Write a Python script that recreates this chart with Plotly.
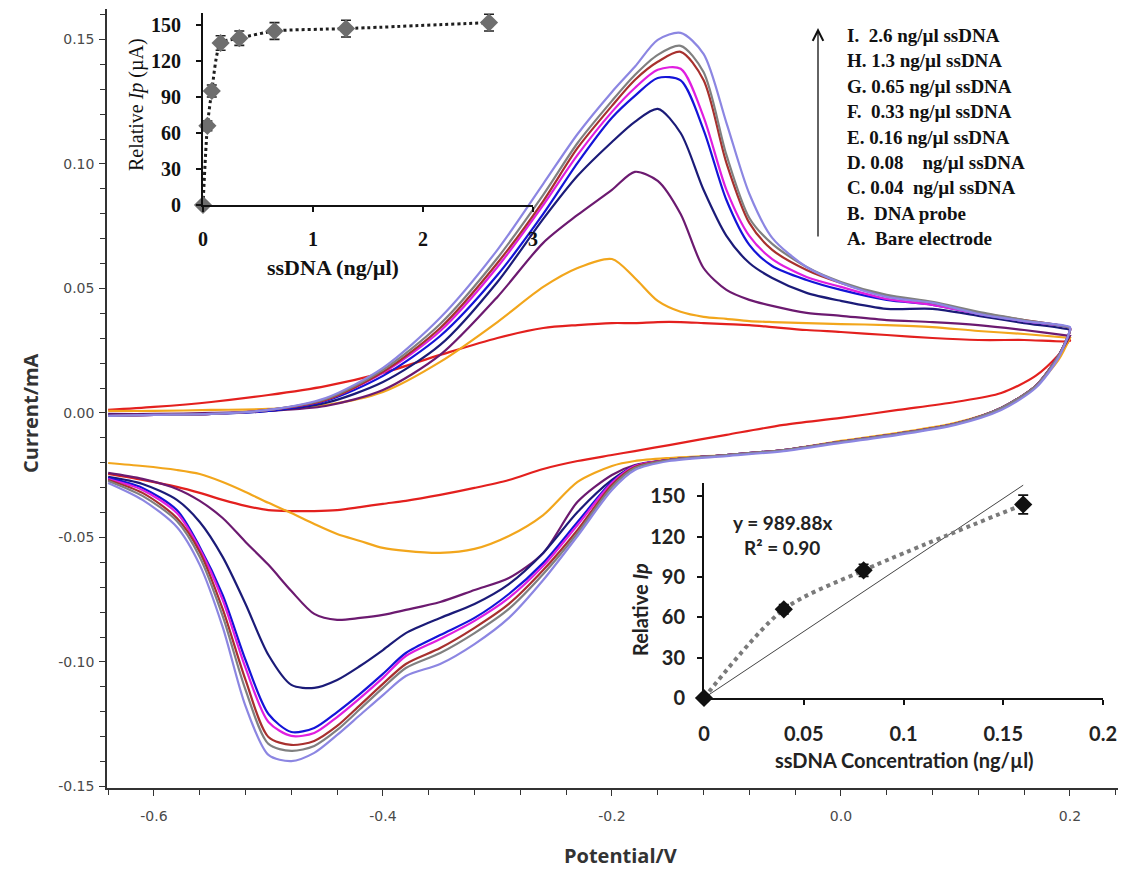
import plotly.graph_objects as go

W, H = 1121, 874

# ---------------- main CV data (potential in V, current in mA) ----------------
V_fwd = [-0.64, -0.60, -0.55, -0.50, -0.45, -0.40, -0.35, -0.30, -0.26, -0.23, -0.20, -0.18,
         -0.16, -0.14, -0.12, -0.10, -0.08, -0.06, -0.03, 0.00, 0.04, 0.08, 0.12, 0.16, 0.20]
V_rev = [0.20, 0.19, 0.17, 0.14, 0.10, 0.05, 0.00, -0.05, -0.10, -0.15, -0.18, -0.20, -0.23, -0.26,
         -0.29, -0.32, -0.35, -0.38, -0.40, -0.42, -0.44, -0.46, -0.48, -0.50, -0.52, -0.54,
         -0.56, -0.58, -0.61, -0.64]

A_fwd = [0.0012, 0.0024, 0.0044, 0.0072, 0.0108, 0.0161, 0.0233, 0.0301, 0.0341, 0.0353, 0.0361, 0.0361,
         0.0365, 0.0365, 0.0361, 0.0357, 0.0353, 0.0345, 0.0333, 0.0325, 0.0313, 0.0301, 0.0293, 0.0293, 0.0289]
A_rev = [0.0293, 0.0233, 0.0149, 0.0080, 0.0044, 0.0012, -0.0020, -0.0048, -0.0088, -0.0129, -0.0153, -0.0169,
         -0.0193, -0.0225, -0.0269, -0.0301, -0.0329, -0.0353, -0.0365, -0.0378, -0.0390, -0.0394, -0.0394,
         -0.0390, -0.0373, -0.0349, -0.0321, -0.0297, -0.0269, -0.0245]

B_fwd = [0.0008, 0.0008, 0.0012, 0.0016, 0.0032, 0.0084, 0.0205, 0.0365, 0.0506, 0.0582, 0.0618, 0.0542,
         0.0450, 0.0406, 0.0386, 0.0378, 0.0369, 0.0365, 0.0361, 0.0357, 0.0353, 0.0345, 0.0329, 0.0317, 0.0301]
B_rev = [0.0301, 0.0213, 0.0108, 0.0020, -0.0040, -0.0080, -0.0112, -0.0149, -0.0169, -0.0181, -0.0193, -0.0213,
         -0.0277, -0.0410, -0.0494, -0.0546, -0.0562, -0.0554, -0.0542, -0.0514, -0.0486, -0.0446, -0.0402,
         -0.0361, -0.0317, -0.0277, -0.0245, -0.0229, -0.0213, -0.0201]

C_fwd = [-0.0004, -0.0004, 0.0000, 0.0008, 0.0028, 0.0092, 0.0233, 0.0466, 0.0683, 0.0795, 0.0896, 0.0968,
         0.0932, 0.0799, 0.0582, 0.0494, 0.0454, 0.0430, 0.0402, 0.0390, 0.0373, 0.0365, 0.0353, 0.0333, 0.0309]
C_rev = [0.0309, 0.0229, 0.0108, 0.0020, -0.0044, -0.0084, -0.0116, -0.0149, -0.0169, -0.0189, -0.0209, -0.0249,
         -0.0357, -0.0562, -0.0663, -0.0711, -0.0759, -0.0791, -0.0811, -0.0823, -0.0831, -0.0807, -0.0715,
         -0.0610, -0.0518, -0.0422, -0.0353, -0.0305, -0.0265, -0.0241]

D_fwd = [-0.0008, -0.0008, -0.0004, 0.0008, 0.0040, 0.0124, 0.0273, 0.0526, 0.0779, 0.0952, 0.1088, 0.1169,
         0.1221, 0.1124, 0.0896, 0.0711, 0.0602, 0.0542, 0.0482, 0.0450, 0.0418, 0.0418, 0.0390, 0.0361, 0.0333]
D_rev = [0.0329, 0.0229, 0.0108, 0.0020, -0.0044, -0.0084, -0.0116, -0.0149, -0.0169, -0.0189, -0.0213, -0.0269,
         -0.0398, -0.0562, -0.0687, -0.0767, -0.0823, -0.0884, -0.0952, -0.1016, -0.1072, -0.1104, -0.1092,
         -0.0972, -0.0767, -0.0578, -0.0438, -0.0349, -0.0285, -0.0257]

E_fwd = [-0.0012, -0.0008, -0.0004, 0.0008, 0.0048, 0.0149, 0.0309, 0.0554, 0.0799, 0.1004, 0.1185, 0.1273,
         0.1345, 0.1335, 0.1137, 0.0855, 0.0675, 0.0590, 0.0534, 0.0494, 0.0454, 0.0434, 0.0398, 0.0369, 0.0341]
E_rev = [0.0329, 0.0229, 0.0108, 0.0020, -0.0044, -0.0084, -0.0116, -0.0149, -0.0169, -0.0189, -0.0213, -0.0277,
         -0.0438, -0.0602, -0.0727, -0.0823, -0.0892, -0.0964, -0.1048, -0.1128, -0.1201, -0.1265, -0.1281,
         -0.1209, -0.0992, -0.0731, -0.0538, -0.0390, -0.0301, -0.0261]

F_fwd = [-0.0012, -0.0008, -0.0004, 0.0012, 0.0052, 0.0161, 0.0329, 0.0586, 0.0835, 0.1036, 0.1209, 0.1305,
         0.1378, 0.1382, 0.1189, 0.0896, 0.0711, 0.0618, 0.0546, 0.0506, 0.0458, 0.0434, 0.0398, 0.0369, 0.0341]
F_rev = [0.0329, 0.0229, 0.0108, 0.0020, -0.0044, -0.0084, -0.0116, -0.0149, -0.0169, -0.0189, -0.0213, -0.0281,
         -0.0450, -0.0614, -0.0743, -0.0835, -0.0908, -0.0976, -0.1064, -0.1145, -0.1221, -0.1285, -0.1297,
         -0.1241, -0.1024, -0.0751, -0.0546, -0.0402, -0.0309, -0.0265]

G_fwd = [-0.0012, -0.0008, -0.0004, 0.0012, 0.0052, 0.0165, 0.0341, 0.0602, 0.0851, 0.1064, 0.1233, 0.1337,
         0.1410, 0.1450, 0.1337, 0.1004, 0.0763, 0.0655, 0.0574, 0.0522, 0.0470, 0.0442, 0.0402, 0.0373, 0.0341]
G_rev = [0.0329, 0.0229, 0.0108, 0.0020, -0.0044, -0.0084, -0.0116, -0.0149, -0.0169, -0.0189, -0.0217, -0.0289,
         -0.0470, -0.0631, -0.0767, -0.0863, -0.0944, -0.1008, -0.1088, -0.1173, -0.1257, -0.1317, -0.1333,
         -0.1301, -0.1072, -0.0787, -0.0558, -0.0422, -0.0321, -0.0269]

H_fwd = [-0.0012, -0.0008, -0.0004, 0.0012, 0.0056, 0.0173, 0.0357, 0.0622, 0.0876, 0.1084, 0.1253, 0.1357,
         0.1438, 0.1474, 0.1369, 0.1036, 0.0783, 0.0679, 0.0586, 0.0526, 0.0474, 0.0446, 0.0406, 0.0373, 0.0341]
H_rev = [0.0329, 0.0229, 0.0108, 0.0020, -0.0044, -0.0084, -0.0116, -0.0149, -0.0169, -0.0189, -0.0221, -0.0297,
         -0.0482, -0.0647, -0.0787, -0.0884, -0.0964, -0.1024, -0.1104, -0.1189, -0.1273, -0.1337, -0.1357,
         -0.1329, -0.1112, -0.0815, -0.0578, -0.0434, -0.0333, -0.0273]

I_fwd = [-0.0012, -0.0008, -0.0004, 0.0012, 0.0060, 0.0181, 0.0382, 0.0655, 0.0920, 0.1120, 0.1289, 0.1390,
         0.1498, 0.1526, 0.1442, 0.1165, 0.0880, 0.0703, 0.0586, 0.0522, 0.0466, 0.0442, 0.0398, 0.0369, 0.0345]
I_rev = [0.0333, 0.0221, 0.0100, 0.0012, -0.0048, -0.0088, -0.0120, -0.0153, -0.0173, -0.0193, -0.0229, -0.0309,
         -0.0494, -0.0671, -0.0823, -0.0928, -0.1008, -0.1056, -0.1133, -0.1213, -0.1293, -0.1365, -0.1398,
         -0.1373, -0.1177, -0.0859, -0.0610, -0.0458, -0.0349, -0.0281]

curve_names = ["A", "B", "C", "D", "E", "F", "G", "H", "I"]
curve_fwd = [A_fwd, B_fwd, C_fwd, D_fwd, E_fwd, F_fwd, G_fwd, H_fwd, I_fwd]
curve_rev = [A_rev, B_rev, C_rev, D_rev, E_rev, F_rev, G_rev, H_rev, I_rev]
curve_colors = ["#e3201e", "#f2a61c", "#6c1a70", "#1b1b78", "#1414d8", "#e01ee0", "#a8302e", "#808080", "#8c86e2"]

legend_lines = ["I.\u00a0 2.6 ng/µl ssDNA", "H. 1.3 ng/µl ssDNA", "G. 0.65 ng/µl ssDNA",
                "F.\u00a0 0.33 ng/µl ssDNA", "E. 0.16 ng/µl ssDNA", "D. 0.08\u00a0\u00a0\u00a0 ng/µl ssDNA",
                "C. 0.04\u00a0 ng/µl ssDNA", "B.\u00a0 DNA probe", "A.\u00a0 Bare electrode"]

main_xticks = [-0.6, -0.4, -0.2, 0.0, 0.2]
main_xtext = ["-0.6", "-0.4", "-0.2", "0.0", "0.2"]
main_yticks = [-0.15, -0.10, -0.05, 0.0, 0.05, 0.10, 0.15]
main_ytext = ["-0.15", "-0.10", "-0.05", "0.00", "0.05", "0.10", "0.15"]

# ---------------- inset 1: Ip vs concentration ----------------
ins1_x = [0, 0.04, 0.08, 0.16, 0.33, 0.65, 1.3, 2.6]
ins1_y = [0, 66, 95, 135, 139, 145, 147, 152]
ins1_err = [0, 4, 5, 6, 6, 7, 7, 7]

# ---------------- inset 2: linear range ----------------
ins2_x = [0, 0.04, 0.08, 0.16]
ins2_y = [0, 66, 95, 144]
ins2_err = [0, 3.5, 4.5, 7]
ins2_xticks = [0, 0.05, 0.1, 0.15, 0.2]
ins2_xtext = ["0", "0.05", "0.1", "0.15", "0.2"]
trend_x = [0, 0.16]
trend_slope = 989.88  # from the printed equation y = 989.88x

fig = go.Figure()

for name, f, r, c in zip(curve_names, curve_fwd, curve_rev, curve_colors):
    fig.add_trace(go.Scatter(x=V_fwd + V_rev, y=f + r, mode="lines",
                             line=dict(color=c, width=2.2, shape="spline", smoothing=0.8),
                             name=name, showlegend=False, xaxis="x", yaxis="y"))

fig.add_trace(go.Scatter(x=ins1_x, y=ins1_y, mode="lines+markers",
                         line=dict(color="#1e1e1e", width=3, dash="dot", shape="spline", smoothing=0.6),
                         marker=dict(symbol="diamond", size=14, color="#6e6e6e"),
                         error_y=dict(type="data", array=ins1_err, color="#222", thickness=1.6, width=5),
                         cliponaxis=False, showlegend=False, xaxis="x2", yaxis="y2"))

fig.add_trace(go.Scatter(x=trend_x, y=[trend_slope * v for v in trend_x], mode="lines",
                         line=dict(color="#444", width=1), showlegend=False, xaxis="x3", yaxis="y3"))
fig.add_trace(go.Scatter(x=ins2_x, y=ins2_y, mode="lines+markers",
                         line=dict(color="#7a7a7a", width=4, dash="dot", shape="spline", smoothing=0.8),
                         marker=dict(symbol="diamond", size=14, color="#111"),
                         error_y=dict(type="data", array=ins2_err, color="#111", thickness=1.6, width=5),
                         cliponaxis=False, showlegend=False, xaxis="x3", yaxis="y3"))


def px(x):
    return x / W


def py(y):
    return 1 - y / H


tick_font = dict(family="DejaVu Sans", size=14, color="#4a4a4a")
serif_b = dict(family="Liberation Serif", size=20, color="#111", weight="bold")
sans_b = dict(family="Lato", size=20, color="#222", weight="bold")

fig.update_layout(
    width=W, height=H, margin=dict(l=0, r=0, t=0, b=0, autoexpand=False),
    paper_bgcolor="white", plot_bgcolor="rgba(0,0,0,0)",
    xaxis=dict(domain=[px(107), px(1118)], range=[-0.641, 0.242], anchor="y",
               tickmode="array", tickvals=main_xticks, ticktext=main_xtext,
               ticks="outside", ticklen=6, tickwidth=1.3, tickcolor="#333",
               minor=dict(tickmode="linear", tick0=-0.6, dtick=0.04, ticks="outside", ticklen=5,
                          tickwidth=1.3, tickcolor="#333"),
               showline=True, linecolor="#333", linewidth=1.5, showgrid=False, zeroline=False,
               tickfont=tick_font, ticklabelstandoff=8),
    yaxis=dict(domain=[py(788), py(9)], range=[-0.1506, 0.1622], anchor="x",
               tickmode="array", tickvals=main_yticks, ticktext=main_ytext,
               ticks="outside", ticklen=6, tickwidth=1.3, tickcolor="#333",
               minor=dict(tickmode="linear", tick0=-0.15, dtick=0.01, ticks="outside", ticklen=5,
                          tickwidth=1.3, tickcolor="#333"),
               showline=True, linecolor="#333", linewidth=1.5, showgrid=False, zeroline=False,
               tickfont=tick_font, ticklabelstandoff=2),
    xaxis2=dict(domain=[px(203), px(533)], range=[0, 3], anchor="y2",
                tickmode="linear", tick0=0, dtick=1, ticks="outside", ticklen=5, tickwidth=1.5,
                tickcolor="#111", showline=True, linecolor="#111", linewidth=2,
                showgrid=False, zeroline=False, tickfont=serif_b, ticklabelstandoff=10),
    yaxis2=dict(domain=[py(205), py(13)], range=[0, 160], anchor="x2",
                tickmode="linear", tick0=0, dtick=30, ticks="outside", ticklen=5, tickwidth=1.5,
                tickcolor="#111", showline=True, linecolor="#111", linewidth=2,
                showgrid=False, zeroline=False, tickfont=serif_b, ticklabelstandoff=11),
    xaxis3=dict(domain=[px(704), px(1103)], range=[0, 0.2], anchor="y3",
                tickmode="array", tickvals=ins2_xticks, ticktext=ins2_xtext,
                ticks="outside", ticklen=5, tickwidth=1.5,
                tickcolor="#111", showline=True, linecolor="#111", linewidth=2,
                showgrid=False, zeroline=False, tickfont=sans_b, ticklabelstandoff=12),
    yaxis3=dict(domain=[py(698), py(483)], range=[0, 160], anchor="x3",
                tickmode="linear", tick0=0, dtick=30, ticks="outside", ticklen=5, tickwidth=1.5,
                tickcolor="#111", showline=True, linecolor="#111", linewidth=2,
                showgrid=False, zeroline=False, tickfont=sans_b, ticklabelstandoff=8),
)


def label(x, y, text, font, angle=0, xanchor="center"):
    return dict(x=px(x), y=py(y), xref="paper", yref="paper", text=text, textangle=angle,
                xanchor=xanchor, yanchor="middle", showarrow=False, font=font)


ann = []
title_font = dict(family="Open Sans", size=20, color="#333", weight="bold")
ann.append(label(30, 413, "Current/mA", title_font, angle=-90))
ann.append(label(620, 855, "Potential/V", title_font))
# inset 1 titles
ann.append(label(333, 267, "ssDNA (ng/µl)", dict(family="Liberation Serif", size=22, color="#111", weight="bold")))
ann.append(label(136, 105, "Relative <i>Ip</i> (µA)", dict(family="Liberation Serif", size=20, color="#111"),
                 angle=-90))
# inset 2 titles
lato_b = dict(family="Lato", size=20, color="#222", weight="bold")
ann.append(label(904, 760, "ssDNA Concentration (ng/µl)", lato_b))
ann.append(label(640, 610, "Relative <i>Ip</i>", lato_b, angle=-90))
ann.append(label(782, 522, "y = 989.88x", dict(family="Lato", size=19, color="#222", weight="bold")))
ann.append(label(782, 547, "R² = 0.90", dict(family="Lato", size=19, color="#222", weight="bold")))
# legend text
leg_font = dict(family="Liberation Serif", size=19, color="#111", weight="bold")
for i, t in enumerate(legend_lines):
    ann.append(label(845, 35 + 25.5 * i, t, leg_font, xanchor="left"))
# arrow
ann.append(dict(x=px(818), y=py(28), xref="paper", yref="paper", text="", showarrow=True,
                ax=0, ay=210, arrowhead=5, arrowsize=1.6, arrowwidth=1.3, arrowcolor="#111"))

fig.update_layout(annotations=ann)
fig.write_html("out.html", config={"displayModeBar": False},
               post_script="document.body.style.margin='0px';document.body.style.padding='0px';")
